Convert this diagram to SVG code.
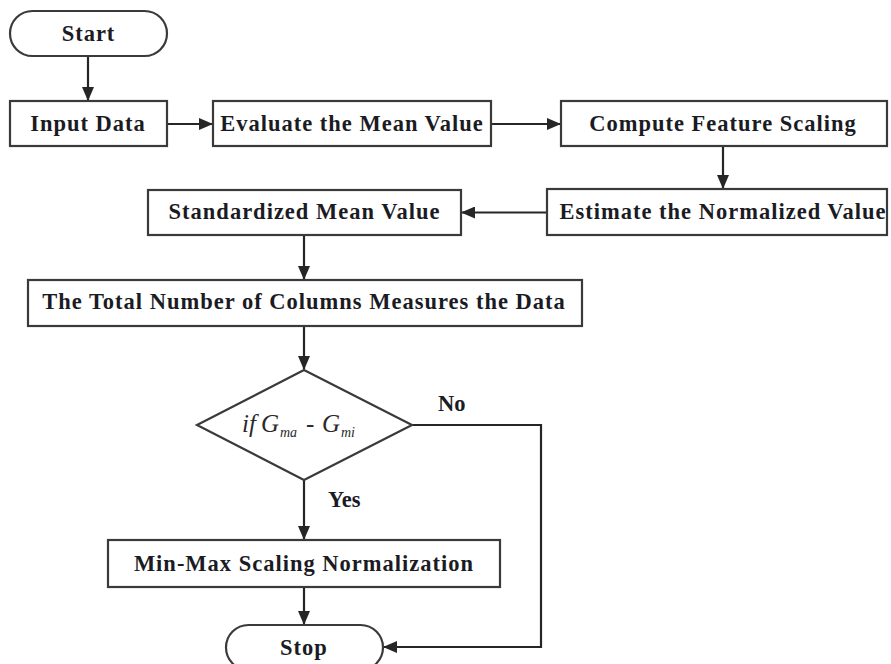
<svg xmlns="http://www.w3.org/2000/svg" width="891" height="664" viewBox="0 0 891 664">
<defs>
<style>
.box{fill:#fff;stroke:#3a3a3a;stroke-width:2.2}
.t{font-family:"Liberation Serif","Times New Roman",serif;font-weight:bold;font-size:22.5px;letter-spacing:1px;fill:#1b1b24;text-anchor:middle}
.lbl{font-family:"Liberation Serif","Times New Roman",serif;font-weight:bold;font-size:22.5px;fill:#1b1b24}
.it{font-family:"Liberation Serif","Times New Roman",serif;font-style:italic;fill:#2a2a2a}
.c{fill:none;stroke:#262626;stroke-width:2.2}
</style>
<marker id="ah" markerUnits="userSpaceOnUse" markerWidth="14" markerHeight="12" viewBox="0 0 14 12" refX="13" refY="6" orient="auto">
<path d="M0,0 L14,6 L0,12 Z" fill="#262626"/>
</marker>
</defs>
<rect width="891" height="664" fill="#fff"/>
<g id="connectors">
<path class="c" d="M88 56 V100" marker-end="url(#ah)"/>
<path class="c" d="M167 124 H212" marker-end="url(#ah)"/>
<path class="c" d="M491 124 H560" marker-end="url(#ah)"/>
<path class="c" d="M723 146 V188" marker-end="url(#ah)"/>
<path class="c" d="M547 212.5 H462" marker-end="url(#ah)"/>
<path class="c" d="M304 235 V279" marker-end="url(#ah)"/>
<path class="c" d="M304 326 V369" marker-end="url(#ah)"/>
<path class="c" d="M304 480 V539" marker-end="url(#ah)"/>
<path class="c" d="M304 587 V624" marker-end="url(#ah)"/>
<path class="c" d="M412 425 H541 V647 H384" marker-end="url(#ah)"/>
</g>
<g id="start">
<rect class="box" x="10" y="11" width="157" height="45" rx="22.5" ry="22.5"/>
<text class="t" x="88.5" y="41">Start</text>
</g>
<g id="input">
<rect class="box" x="10" y="101" width="157" height="45"/>
<text class="t" x="88" y="131">Input Data</text>
</g>
<g id="evaluate">
<rect class="box" x="213" y="101" width="278" height="45"/>
<text class="t" x="352" y="131">Evaluate the Mean Value</text>
</g>
<g id="compute">
<rect class="box" x="561" y="101" width="326" height="45"/>
<text class="t" x="723" y="131">Compute Feature Scaling</text>
</g>
<g id="estimate">
<rect class="box" x="547" y="189" width="340" height="46"/>
<text class="t" x="723" y="219">Estimate the Normalized Value</text>
</g>
<g id="standardized">
<rect class="box" x="148" y="190" width="313" height="45"/>
<text class="t" x="304.5" y="219">Standardized Mean Value</text>
</g>
<g id="total">
<rect class="box" x="28" y="280" width="554" height="46"/>
<text class="t" x="304" y="309">The Total Number of Columns Measures the Data</text>
</g>
<g id="decision">
<polygon class="box" points="304,370 412,425 304,480 197,425"/>
<text class="it" x="242" y="432" font-size="25">if</text>
<text class="it" x="261" y="432" font-size="25">G</text>
<text class="it" x="280" y="437" font-size="14">ma</text>
<text class="it" x="306" y="432" font-size="25">-</text>
<text class="it" x="322" y="432" font-size="25">G</text>
<text class="it" x="341" y="437" font-size="14">mi</text>
</g>
<g id="labels">
<text class="lbl" x="438" y="411">No</text>
<text class="lbl" x="328" y="507">Yes</text>
</g>
<g id="minmax">
<rect class="box" x="108" y="540" width="392" height="47"/>
<text class="t" x="304" y="571">Min-Max Scaling Normalization</text>
</g>
<g id="stop">
<rect class="box" x="226" y="625" width="157" height="45" rx="22.5" ry="22.5"/>
<text class="t" x="304" y="655">Stop</text>
</g>
</svg>
